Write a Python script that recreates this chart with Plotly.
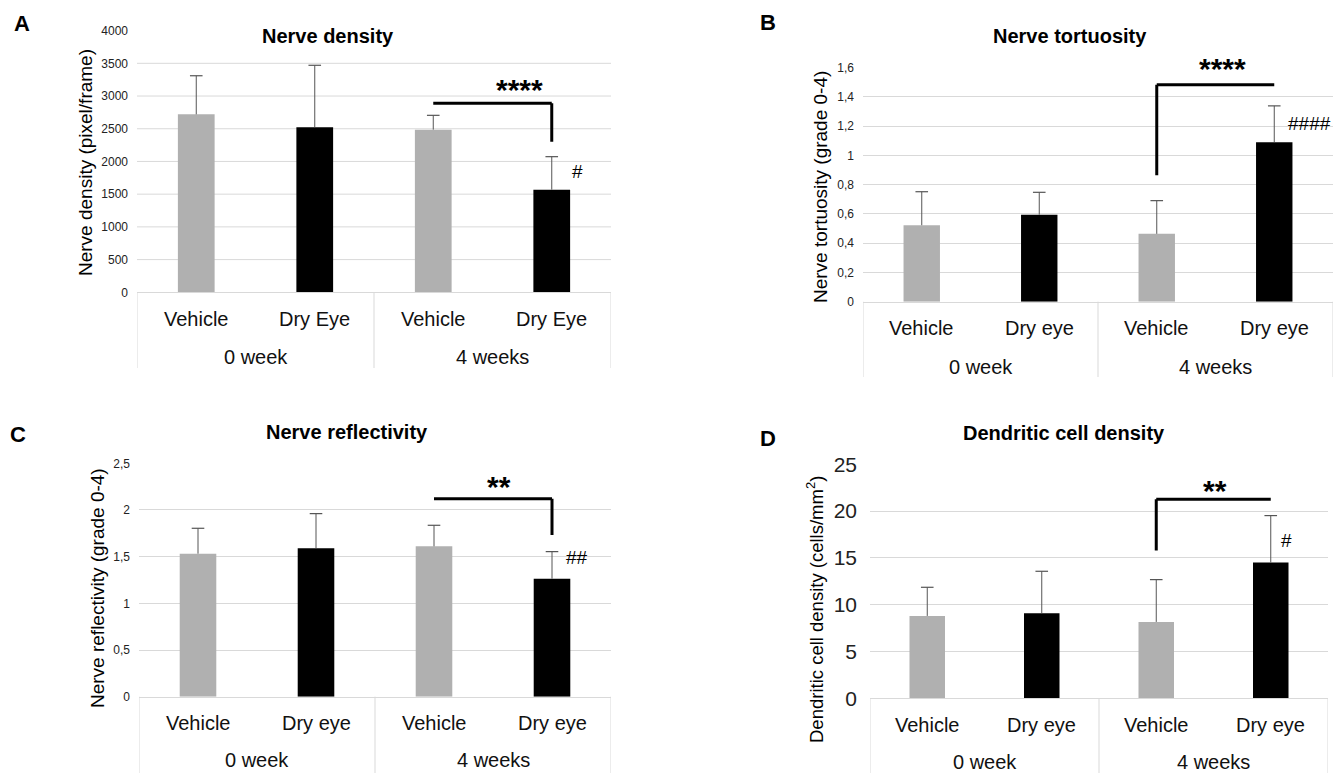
import plotly.graph_objects as go

W, H = 1340, 773

# ---------------- data ----------------
groups_A = ["0 week", "0 week", "4 weeks", "4 weeks"]
conds_A = ["Vehicle", "Dry Eye", "Vehicle", "Dry Eye"]
groups = ["0 week", "0 week", "4 weeks", "4 weeks"]
conds = ["Vehicle", "Dry eye", "Vehicle", "Dry eye"]

density_mean = [2720, 2522, 2486, 1569]
density_err = [590, 948, 219, 504]

tortuosity_mean = [0.523, 0.595, 0.464, 1.091]
tortuosity_err = [0.229, 0.153, 0.227, 0.248]

reflectivity_mean = [1.532, 1.589, 1.611, 1.264]
reflectivity_err = [0.272, 0.372, 0.225, 0.290]

dendritic_mean = [8.80, 9.08, 8.16, 14.50]
dendritic_err = [3.06, 4.49, 4.52, 5.02]

ticks_A = [0, 500, 1000, 1500, 2000, 2500, 3000, 3500, 4000]
ticks_A_text = ["0", "500", "1000", "1500", "2000", "2500", "3000", "3500", "4000"]
ticks_B = [0, 0.2, 0.4, 0.6, 0.8, 1.0, 1.2, 1.4, 1.6]
ticks_B_text = ["0", "0,2", "0,4", "0,6", "0,8", "1", "1,2", "1,4", "1,6"]
ticks_C = [0, 0.5, 1.0, 1.5, 2.0, 2.5]
ticks_C_text = ["0", "0,5", "1", "1,5", "2", "2,5"]
ticks_D = [0, 5, 10, 15, 20, 25]
ticks_D_text = ["0", "5", "10", "15", "20", "25"]

# significance brackets
bracket_A = dict(x0=2, x1=3, y=2889, leg=2303, side="right", stars="****", sy=3169, sx=2.73,
                 hash="#", hx=3.22, hy=1844)
bracket_B = dict(x0=2, x1=3, y=1.484, leg=0.864, side="left", stars="****", sy=1.63, sx=2.56,
                 hash="####", hx=3.30, hy=1.216)
bracket_C = dict(x0=2, x1=3, y=2.121, leg=1.732, side="right", stars="**", sy=2.30, sx=2.55,
                 hash="##", hx=3.21, hy=1.493)
bracket_D = dict(x0=2, x1=3, y=21.26, leg=15.78, side="left", stars="**", sy=22.69, sx=2.51,
                 hash="#", hx=3.14, hy=16.9)

colors = ["#b0b0b0", "#000000", "#b0b0b0", "#000000"]

FONT = "Liberation Sans, Arial, sans-serif"
GRID = "#d9d9d9"
ERRC = "#555555"


def px_x(p):
    return p / W


def px_y(p):
    return 1 - p / H


panels = [
    dict(g=groups_A, c=conds_A, m=density_mean, e=density_err, tv=ticks_A, tt=ticks_A_text,
         rng=[0, 4000], dx=(137, 611), dy=(30.6, 292.3), tf=12, so=8,
         lab_y=319, grp_y=357, div_y=368,
         yt="Nerve density (pixel/frame)", ytp=(85, 163), ytf=19,
         title="Nerve density", tp=(328, 36), letter="A", lp=(22, 24), br=bracket_A, shapegrid=True),
    dict(g=groups, c=conds, m=tortuosity_mean, e=tortuosity_err, tv=ticks_B, tt=ticks_B_text,
         rng=[0, 1.6], dx=(863, 1333), dy=(67.7, 301.7), tf=12, so=8,
         lab_y=328, grp_y=367, div_y=377,
         yt="Nerve tortuosity (grade 0-4)", ytp=(820, 187), ytf=19,
         title="Nerve tortuosity", tp=(1070, 36), letter="B", lp=(768, 22), br=bracket_B, shapegrid=False),
    dict(g=groups, c=conds, m=reflectivity_mean, e=reflectivity_err, tv=ticks_C, tt=ticks_C_text,
         rng=[0, 2.5], dx=(139, 611), dy=(463.3, 696.7), tf=12, so=8,
         lab_y=723, grp_y=760, div_y=773,
         yt="Nerve reflectivity (grade 0-4)", ytp=(97, 588), ytf=19,
         title="Nerve reflectivity", tp=(347, 432), letter="C", lp=(18, 435), br=bracket_C, shapegrid=False),
    dict(g=groups, c=conds, m=dendritic_mean, e=dendritic_err, tv=ticks_D, tt=ticks_D_text,
         rng=[0, 25], dx=(870, 1328), dy=(464.3, 698.3), tf=21, so=12,
         lab_y=725, grp_y=762, div_y=773,
         yt="Dendritic cell density (cells/mm<sup>2</sup>)", ytp=(815, 610), ytf=18.5,
         title="Dendritic cell density", tp=(1064, 433), letter="D", lp=(768, 438), br=bracket_D, shapegrid=False),
]

fig = go.Figure()
layout = dict(width=W, height=H, margin=dict(l=0, r=0, t=0, b=0, autoexpand=False),
              paper_bgcolor="white", plot_bgcolor="white", showlegend=False,
              font=dict(family=FONT, color="#000000"))
shapes = []
annotations = []


def ann(**kw):
    base = dict(showarrow=False, xanchor="center", yanchor="middle")
    base.update(kw)
    annotations.append(base)


for i, p in enumerate(panels):
    n = "" if i == 0 else str(i + 1)
    xa, ya = "x" + n, "y" + n
    top = p["rng"][1]
    # bars with upper error whisker (no caps; caps drawn by marker trace below)
    fig.add_trace(go.Bar(
        x=[p["g"], p["c"]], y=p["m"], width=0.31,
        marker=dict(color=colors, line=dict(width=0)),
        error_y=dict(type="data", array=p["e"], arrayminus=[0] * 4, symmetric=False,
                     color=ERRC, thickness=1, width=0),
        xaxis=xa, yaxis=ya, hoverinfo="skip"))
    # whisker caps at mean + error
    fig.add_trace(go.Scatter(
        x=[p["g"], p["c"]], y=[m + e for m, e in zip(p["m"], p["e"])], mode="markers",
        marker=dict(symbol="line-ew", size=9, line=dict(color=ERRC, width=1.2)),
        xaxis=xa, yaxis=ya, hoverinfo="skip", cliponaxis=False))
    layout["xaxis" + n] = dict(
        domain=[px_x(p["dx"][0]), px_x(p["dx"][1])], anchor=ya, type="multicategory",
        range=[-0.5, 3.5], automargin=False,
        showline=True, linecolor=GRID, linewidth=1, showgrid=False,
        showticklabels=False, showdividers=False, ticks="", fixedrange=True)
    layout["yaxis" + n] = dict(
        domain=[px_y(p["dy"][1]), px_y(p["dy"][0])], anchor=xa, range=p["rng"], automargin=False,
        tickvals=p["tv"], ticktext=p["tt"], showgrid=not p["shapegrid"], gridcolor=GRID,
        gridwidth=1, zeroline=False, showline=False, ticks="", ticklabelstandoff=p["so"],
        tickfont=dict(size=p["tf"], family=FONT, color="#222222"), fixedrange=True)
    if p["shapegrid"]:
        for v in p["tv"][1:-1]:
            shapes.append(dict(type="line", xref=xa + " domain", yref=ya, x0=0, x1=1, y0=v, y1=v,
                               line=dict(color=GRID, width=1), layer="below"))
    # category label box dividers (left edge, between groups, right edge)
    for xv in (-0.5, 1.5, 3.5):
        shapes.append(dict(type="line", xref=xa, yref="paper", x0=xv, x1=xv,
                           y0=px_y(p["dy"][1]), y1=px_y(p["div_y"]),
                           line=dict(color=GRID, width=1)))
    # category labels
    for k, lab in enumerate(p["c"]):
        ann(xref=xa, yref="paper", x=k, y=px_y(p["lab_y"]), text=lab,
            font=dict(size=20, family=FONT, color="#111111"))
    for grp in dict.fromkeys(p["g"]):
        idx = [k for k, gg in enumerate(p["g"]) if gg == grp]
        ann(xref=xa, yref="paper", x=sum(idx) / len(idx), y=px_y(p["grp_y"]), text=grp,
            font=dict(size=20, family=FONT, color="#111111"))
    # significance bracket
    b = p["br"]
    legx = b["x1"] if b["side"] == "right" else b["x0"]
    shapes.append(dict(type="line", xref=xa, yref=ya, x0=b["x0"], x1=b["x1"], y0=b["y"], y1=b["y"],
                       line=dict(color="black", width=3)))
    shapes.append(dict(type="line", xref=xa, yref=ya, x0=legx, x1=legx, y0=b["y"], y1=b["leg"],
                       line=dict(color="black", width=3)))
    ann(xref=xa, yref=ya + " domain", x=b["sx"], y=b["sy"] / top, yshift=-5,
        text="<b>" + b["stars"] + "</b>", font=dict(size=30, family=FONT))
    ann(xref=xa, yref=ya + " domain", x=b["hx"], y=b["hy"] / top, text=b["hash"],
        font=dict(size=19, family=FONT))
    # y title
    ann(xref="paper", yref="paper", x=px_x(p["ytp"][0]), y=px_y(p["ytp"][1]),
        text=p["yt"], textangle=-90, font=dict(size=p["ytf"], family=FONT))
    # panel title
    ann(xref="paper", yref="paper", x=px_x(p["tp"][0]), y=px_y(p["tp"][1]),
        text="<b>" + p["title"] + "</b>", font=dict(size=20, family=FONT))
    # panel letter
    ann(xref="paper", yref="paper", x=px_x(p["lp"][0]), y=px_y(p["lp"][1]),
        text="<b>" + p["letter"] + "</b>", font=dict(size=22, family=FONT))

layout["shapes"] = shapes
layout["annotations"] = annotations
fig.update_layout(**layout)
fig.write_html("out.html", config={"displayModeBar": False},
               post_script="document.body.style.margin='0px';document.body.style.overflow='hidden';")
